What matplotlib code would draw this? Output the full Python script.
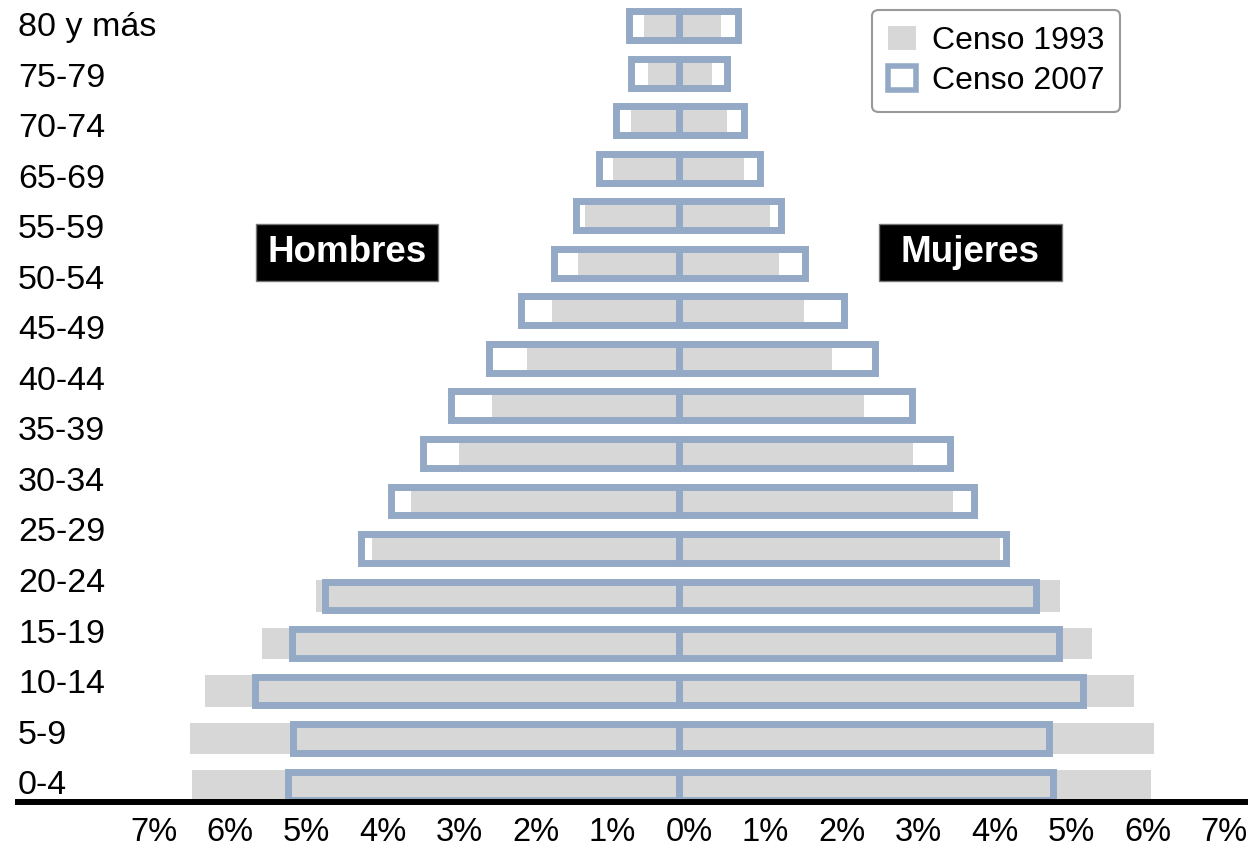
import matplotlib
matplotlib.use('Agg')
import matplotlib.pyplot as plt
import numpy as np
from matplotlib.patches import Patch, Rectangle
from matplotlib.transforms import ScaledTranslation

plt.rcParams['font.family'] = ['Liberation Sans', 'DejaVu Sans']

# age groups of the bars, bottom to top (the original axis skips the 60-64 label)
ageGroups = ['0-4', '5-9', '10-14', '15-19', '20-24', '25-29', '30-34', '35-39',
             '40-44', '45-49', '50-54', '55-59', '60-64', '65-69', '70-74',
             '75-79', '80 y más']
ageLabels = ['0-4', '5-9', '10-14', '15-19', '20-24', '25-29', '30-34', '35-39',
             '40-44', '45-49', '50-54', '55-59', '65-69', '70-74', '75-79',
             '80 y más']

# percentages, bottom to top
men1993 = [6.37, 6.39, 6.20, 5.45, 4.75, 4.01, 3.50, 2.88, 2.44, 1.99, 1.66, 1.32,
           1.23, 0.86, 0.63, 0.41, 0.46]
women1993 = [6.17, 6.21, 5.95, 5.40, 4.98, 4.20, 3.58, 3.06, 2.42, 2.00, 1.63, 1.31,
             1.19, 0.85, 0.63, 0.43, 0.55]
men2007 = [5.11, 5.04, 5.54, 5.06, 4.63, 4.16, 3.76, 3.34, 2.98, 2.48, 2.07, 1.63,
           1.35, 1.05, 0.82, 0.63, 0.65]
women2007 = [4.89, 4.84, 5.28, 4.97, 4.67, 4.27, 3.86, 3.54, 3.05, 2.56, 2.16, 1.65,
             1.33, 1.06, 0.85, 0.63, 0.77]

xTicks = np.arange(-7, 8)
xTickLabels = ['%d%%' % abs(t) for t in xTicks]

GRAY = '#d7d7d7'
BLUE = '#93a9c5'

fig = plt.figure(figsize=(12.51, 8.49), dpi=100)
ax = fig.add_axes([18 / 1251, 47 / 849, (1245 - 18) / 1251, 802 / 849])

ypos = np.arange(len(ageGroups))
m93 = np.array(men1993)
w93 = np.array(women1993)
m07 = np.array(men2007)
w07 = np.array(women2007)

ax.barh(ypos, -m93, height=0.67, color=GRAY, linewidth=0, zorder=1)
ax.barh(ypos, w93, height=0.67, color=GRAY, linewidth=0, zorder=1)
for vals in (-m07, w07):
    bars = ax.barh(ypos, vals, height=0.61, fill=False, edgecolor=BLUE,
                   linewidth=5.0, zorder=2)
    for b in bars:
        b.set_joinstyle('miter')

ax.set_xlim(-8.64, 7.40)
ax.set_ylim(-0.337, 16.547)

ax.set_xticks(xTicks)
ax.set_xticklabels(xTickLabels, fontsize=23.5)
ax.tick_params(axis='x', length=0, pad=11)
offset = ScaledTranslation(10 / 100, 0, fig.dpi_scale_trans)
for lab in ax.get_xticklabels():
    lab.set_transform(lab.get_transform() + offset)

ax.set_yticks(np.linspace(0.08, 16.04, len(ageLabels)))
ax.set_yticklabels(ageLabels, fontsize=24.5)
ax.tick_params(axis='y', length=0, pad=0)
for lab in ax.get_yticklabels():
    lab.set_horizontalalignment('left')

for side in ['top', 'right', 'left']:
    ax.spines[side].set_visible(False)
ax.spines['bottom'].set_linewidth(4.3)
ax.spines['bottom'].set_color('black')
ax.spines['bottom'].set_zorder(3)

# black name boxes
for x0, w, name in [(-5.53, 2.38, 'Hombres'), (2.61, 2.40, 'Mujeres')]:
    ax.add_patch(Rectangle((x0, 10.63), w, 1.2, facecolor='black',
                           edgecolor='#777777', linewidth=1, zorder=4))
    ax.text(x0 + w / 2, 11.24, name, color='white', fontsize=26.5, fontweight='bold',
            ha='center', va='center', zorder=5)

handles = [Patch(facecolor=GRAY, edgecolor='none', label='Censo 1993'),
           Patch(facecolor='white', edgecolor=BLUE, linewidth=4, label='Censo 2007')]
leg = fig.legend(handles=handles, loc='upper right', bbox_to_anchor=(1120 / 1251, 1 - 10 / 849),
                 fontsize=23, handlelength=0.85, handleheight=0.78, handletextpad=0.5,
                 labelspacing=0.32, borderpad=0.5, borderaxespad=0, fancybox=True,
                 framealpha=1, edgecolor='#999999')
leg.get_frame().set_linewidth(1.5)

fig.savefig('out.png', dpi=100)
